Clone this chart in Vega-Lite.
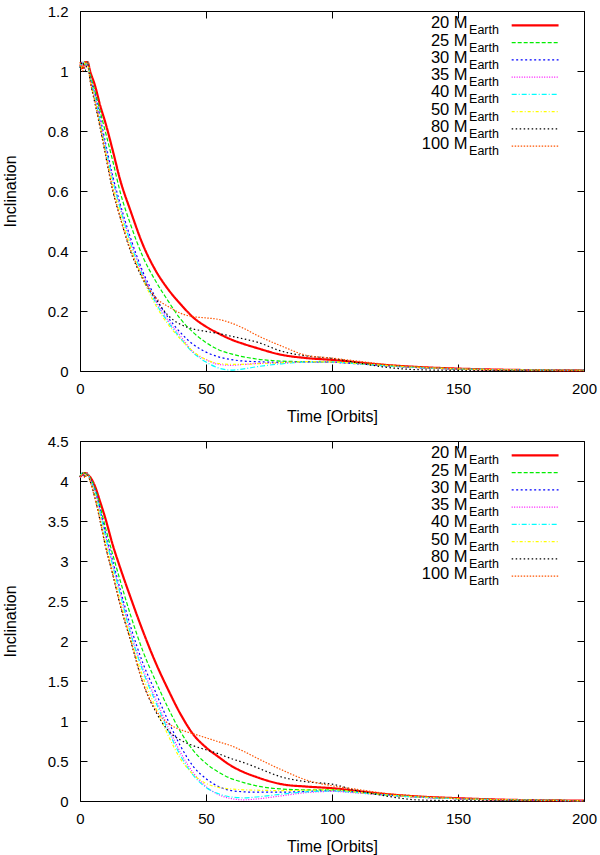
{
  "$schema": "https://vega.github.io/schema/vega-lite/v6.json",
  "description": "Inclination damping versus time for planets of 20 to 100 Earth masses, two initial inclinations.",
  "background": "white",
  "padding": {"left": 2, "top": 3, "right": 0, "bottom": 1},
  "spacing": 8,
  "config": {
    "font": "Liberation Sans",
    "view": {"stroke": "black", "strokeWidth": 1},
    "axis": {
      "grid": false,
      "domain": false,
      "tickColor": "black",
      "labelColor": "black",
      "titleColor": "black",
      "labelFontSize": 15,
      "titleFontSize": 16,
      "titleFontWeight": "normal",
      "tickSize": -7,
      "labelPadding": 19,
      "labelFlush": false
    }
  },
  "datasets": {
    "key": [
      {"m": "20", "lab": "20 M", "rank": 1},
      {"m": "25", "lab": "25 M", "rank": 2},
      {"m": "30", "lab": "30 M", "rank": 3},
      {"m": "35", "lab": "35 M", "rank": 4},
      {"m": "40", "lab": "40 M", "rank": 5},
      {"m": "50", "lab": "50 M", "rank": 6},
      {"m": "80", "lab": "80 M", "rank": 7},
      {"m": "100", "lab": "100 M", "rank": 8}
    ],
    "top": [
      {"m":"20","t":0,"i":1.02},{"m":"20","t":1,"i":1.01},{"m":"20","t":2,"i":1.03},{"m":"20","t":3,"i":1.03},{"m":"20","t":4,"i":1.0},{"m":"20","t":6,"i":0.95},{"m":"20","t":8,"i":0.885},{"m":"20","t":10,"i":0.83},{"m":"20","t":13,"i":0.735},{"m":"20","t":16,"i":0.635},{"m":"20","t":20,"i":0.535},{"m":"20","t":25,"i":0.42},{"m":"20","t":30,"i":0.335},{"m":"20","t":35,"i":0.272},{"m":"20","t":40,"i":0.222},{"m":"20","t":45,"i":0.178},{"m":"20","t":50,"i":0.148},{"m":"20","t":55,"i":0.125},{"m":"20","t":60,"i":0.105},{"m":"20","t":65,"i":0.09},{"m":"20","t":70,"i":0.077},{"m":"20","t":80,"i":0.054},{"m":"20","t":90,"i":0.043},{"m":"20","t":100,"i":0.037},{"m":"20","t":110,"i":0.029},{"m":"20","t":120,"i":0.021},{"m":"20","t":135,"i":0.013},{"m":"20","t":150,"i":0.008},{"m":"20","t":170,"i":0.004},{"m":"20","t":200,"i":0.002},
      {"m":"25","t":0,"i":1.02},{"m":"25","t":1,"i":1.03},{"m":"25","t":2,"i":1.02},{"m":"25","t":3,"i":1.03},{"m":"25","t":4,"i":0.99},{"m":"25","t":6,"i":0.93},{"m":"25","t":8,"i":0.865},{"m":"25","t":10,"i":0.8},{"m":"25","t":13,"i":0.7},{"m":"25","t":16,"i":0.595},{"m":"25","t":20,"i":0.49},{"m":"25","t":25,"i":0.38},{"m":"25","t":30,"i":0.3},{"m":"25","t":35,"i":0.233},{"m":"25","t":40,"i":0.172},{"m":"25","t":45,"i":0.128},{"m":"25","t":50,"i":0.095},{"m":"25","t":55,"i":0.071},{"m":"25","t":60,"i":0.057},{"m":"25","t":65,"i":0.047},{"m":"25","t":70,"i":0.04},{"m":"25","t":80,"i":0.033},{"m":"25","t":90,"i":0.031},{"m":"25","t":100,"i":0.03},{"m":"25","t":110,"i":0.025},{"m":"25","t":120,"i":0.019},{"m":"25","t":135,"i":0.012},{"m":"25","t":150,"i":0.007},{"m":"25","t":170,"i":0.004},{"m":"25","t":200,"i":0.002},
      {"m":"30","t":0,"i":1.02},{"m":"30","t":1,"i":1.02},{"m":"30","t":2,"i":1.03},{"m":"30","t":3,"i":1.02},{"m":"30","t":4,"i":0.98},{"m":"30","t":6,"i":0.92},{"m":"30","t":8,"i":0.845},{"m":"30","t":10,"i":0.765},{"m":"30","t":13,"i":0.65},{"m":"30","t":16,"i":0.555},{"m":"30","t":20,"i":0.445},{"m":"30","t":25,"i":0.33},{"m":"30","t":30,"i":0.245},{"m":"30","t":35,"i":0.178},{"m":"30","t":40,"i":0.127},{"m":"30","t":45,"i":0.088},{"m":"30","t":50,"i":0.063},{"m":"30","t":55,"i":0.047},{"m":"30","t":60,"i":0.038},{"m":"30","t":65,"i":0.033},{"m":"30","t":70,"i":0.031},{"m":"30","t":80,"i":0.029},{"m":"30","t":90,"i":0.03},{"m":"30","t":100,"i":0.029},{"m":"30","t":110,"i":0.024},{"m":"30","t":120,"i":0.018},{"m":"30","t":135,"i":0.011},{"m":"30","t":150,"i":0.007},{"m":"30","t":170,"i":0.004},{"m":"30","t":200,"i":0.002},
      {"m":"35","t":0,"i":1.02},{"m":"35","t":1,"i":1.03},{"m":"35","t":2,"i":1.01},{"m":"35","t":3,"i":1.03},{"m":"35","t":4,"i":0.98},{"m":"35","t":6,"i":0.915},{"m":"35","t":8,"i":0.835},{"m":"35","t":10,"i":0.755},{"m":"35","t":13,"i":0.64},{"m":"35","t":16,"i":0.545},{"m":"35","t":20,"i":0.435},{"m":"35","t":25,"i":0.322},{"m":"35","t":30,"i":0.235},{"m":"35","t":35,"i":0.168},{"m":"35","t":40,"i":0.115},{"m":"35","t":45,"i":0.062},{"m":"35","t":50,"i":0.038},{"m":"35","t":55,"i":0.022},{"m":"35","t":60,"i":0.019},{"m":"35","t":65,"i":0.022},{"m":"35","t":70,"i":0.025},{"m":"35","t":80,"i":0.027},{"m":"35","t":90,"i":0.03},{"m":"35","t":100,"i":0.029},{"m":"35","t":110,"i":0.024},{"m":"35","t":120,"i":0.018},{"m":"35","t":135,"i":0.011},{"m":"35","t":150,"i":0.007},{"m":"35","t":170,"i":0.004},{"m":"35","t":200,"i":0.002},
      {"m":"40","t":0,"i":1.01},{"m":"40","t":1,"i":1.03},{"m":"40","t":2,"i":1.02},{"m":"40","t":3,"i":1.03},{"m":"40","t":4,"i":0.98},{"m":"40","t":6,"i":0.91},{"m":"40","t":8,"i":0.83},{"m":"40","t":10,"i":0.75},{"m":"40","t":13,"i":0.635},{"m":"40","t":16,"i":0.54},{"m":"40","t":20,"i":0.428},{"m":"40","t":25,"i":0.316},{"m":"40","t":30,"i":0.228},{"m":"40","t":35,"i":0.162},{"m":"40","t":40,"i":0.108},{"m":"40","t":45,"i":0.06},{"m":"40","t":50,"i":0.03},{"m":"40","t":55,"i":0.01},{"m":"40","t":60,"i":0.003},{"m":"40","t":65,"i":0.007},{"m":"40","t":70,"i":0.014},{"m":"40","t":80,"i":0.024},{"m":"40","t":90,"i":0.03},{"m":"40","t":100,"i":0.03},{"m":"40","t":110,"i":0.024},{"m":"40","t":120,"i":0.018},{"m":"40","t":135,"i":0.011},{"m":"40","t":150,"i":0.007},{"m":"40","t":170,"i":0.004},{"m":"40","t":200,"i":0.002},
      {"m":"50","t":0,"i":1.02},{"m":"50","t":1,"i":1.01},{"m":"50","t":2,"i":1.03},{"m":"50","t":3,"i":1.02},{"m":"50","t":4,"i":0.97},{"m":"50","t":6,"i":0.9},{"m":"50","t":8,"i":0.82},{"m":"50","t":10,"i":0.735},{"m":"50","t":13,"i":0.62},{"m":"50","t":16,"i":0.525},{"m":"50","t":20,"i":0.415},{"m":"50","t":25,"i":0.305},{"m":"50","t":30,"i":0.22},{"m":"50","t":35,"i":0.155},{"m":"50","t":40,"i":0.105},{"m":"50","t":45,"i":0.065},{"m":"50","t":50,"i":0.038},{"m":"50","t":55,"i":0.025},{"m":"50","t":60,"i":0.022},{"m":"50","t":65,"i":0.022},{"m":"50","t":70,"i":0.024},{"m":"50","t":80,"i":0.028},{"m":"50","t":90,"i":0.031},{"m":"50","t":100,"i":0.03},{"m":"50","t":110,"i":0.025},{"m":"50","t":120,"i":0.019},{"m":"50","t":135,"i":0.012},{"m":"50","t":150,"i":0.007},{"m":"50","t":170,"i":0.004},{"m":"50","t":200,"i":0.002},
      {"m":"80","t":0,"i":1.01},{"m":"80","t":1,"i":1.03},{"m":"80","t":2,"i":1.0},{"m":"80","t":3,"i":1.03},{"m":"80","t":4,"i":0.97},{"m":"80","t":6,"i":0.89},{"m":"80","t":8,"i":0.81},{"m":"80","t":10,"i":0.725},{"m":"80","t":13,"i":0.6},{"m":"80","t":16,"i":0.51},{"m":"80","t":20,"i":0.4},{"m":"80","t":25,"i":0.305},{"m":"80","t":30,"i":0.24},{"m":"80","t":35,"i":0.185},{"m":"80","t":40,"i":0.155},{"m":"80","t":45,"i":0.14},{"m":"80","t":50,"i":0.132},{"m":"80","t":55,"i":0.125},{"m":"80","t":60,"i":0.116},{"m":"80","t":65,"i":0.107},{"m":"80","t":70,"i":0.097},{"m":"80","t":80,"i":0.066},{"m":"80","t":90,"i":0.05},{"m":"80","t":100,"i":0.042},{"m":"80","t":110,"i":0.028},{"m":"80","t":120,"i":0.014},{"m":"80","t":135,"i":0.004},{"m":"80","t":150,"i":0.002},{"m":"80","t":170,"i":0.001},{"m":"80","t":200,"i":0.0},
      {"m":"100","t":0,"i":1.03},{"m":"100","t":1,"i":1.0},{"m":"100","t":2,"i":1.02},{"m":"100","t":3,"i":1.03},{"m":"100","t":4,"i":0.97},{"m":"100","t":6,"i":0.895},{"m":"100","t":8,"i":0.815},{"m":"100","t":10,"i":0.73},{"m":"100","t":13,"i":0.605},{"m":"100","t":16,"i":0.51},{"m":"100","t":20,"i":0.405},{"m":"100","t":25,"i":0.31},{"m":"100","t":30,"i":0.245},{"m":"100","t":35,"i":0.215},{"m":"100","t":40,"i":0.192},{"m":"100","t":45,"i":0.181},{"m":"100","t":50,"i":0.177},{"m":"100","t":55,"i":0.172},{"m":"100","t":60,"i":0.16},{"m":"100","t":65,"i":0.142},{"m":"100","t":70,"i":0.12},{"m":"100","t":80,"i":0.083},{"m":"100","t":90,"i":0.052},{"m":"100","t":100,"i":0.043},{"m":"100","t":110,"i":0.033},{"m":"100","t":120,"i":0.023},{"m":"100","t":135,"i":0.013},{"m":"100","t":150,"i":0.008},{"m":"100","t":170,"i":0.004},{"m":"100","t":200,"i":0.002}
    ],
    "bottom": [
      {"m":"20","t":0,"i":4.05},{"m":"20","t":1,"i":4.08},{"m":"20","t":2,"i":4.1},{"m":"20","t":3,"i":4.08},{"m":"20","t":4,"i":4.05},{"m":"20","t":6,"i":3.93},{"m":"20","t":8,"i":3.74},{"m":"20","t":10,"i":3.54},{"m":"20","t":13,"i":3.2},{"m":"20","t":16,"i":2.91},{"m":"20","t":20,"i":2.55},{"m":"20","t":25,"i":2.12},{"m":"20","t":30,"i":1.73},{"m":"20","t":35,"i":1.39},{"m":"20","t":40,"i":1.08},{"m":"20","t":45,"i":0.83},{"m":"20","t":50,"i":0.67},{"m":"20","t":55,"i":0.55},{"m":"20","t":60,"i":0.44},{"m":"20","t":65,"i":0.36},{"m":"20","t":70,"i":0.3},{"m":"20","t":80,"i":0.21},{"m":"20","t":90,"i":0.18},{"m":"20","t":100,"i":0.16},{"m":"20","t":110,"i":0.125},{"m":"20","t":120,"i":0.09},{"m":"20","t":135,"i":0.055},{"m":"20","t":150,"i":0.035},{"m":"20","t":170,"i":0.015},{"m":"20","t":200,"i":0.005},
      {"m":"25","t":0,"i":4.05},{"m":"25","t":1,"i":4.1},{"m":"25","t":2,"i":4.1},{"m":"25","t":3,"i":4.07},{"m":"25","t":4,"i":4.04},{"m":"25","t":6,"i":3.9},{"m":"25","t":8,"i":3.68},{"m":"25","t":10,"i":3.43},{"m":"25","t":13,"i":3.08},{"m":"25","t":16,"i":2.75},{"m":"25","t":20,"i":2.33},{"m":"25","t":25,"i":1.87},{"m":"25","t":30,"i":1.5},{"m":"25","t":35,"i":1.16},{"m":"25","t":40,"i":0.86},{"m":"25","t":45,"i":0.63},{"m":"25","t":50,"i":0.47},{"m":"25","t":55,"i":0.36},{"m":"25","t":60,"i":0.28},{"m":"25","t":65,"i":0.23},{"m":"25","t":70,"i":0.19},{"m":"25","t":80,"i":0.15},{"m":"25","t":90,"i":0.14},{"m":"25","t":100,"i":0.14},{"m":"25","t":110,"i":0.11},{"m":"25","t":120,"i":0.08},{"m":"25","t":135,"i":0.05},{"m":"25","t":150,"i":0.03},{"m":"25","t":170,"i":0.015},{"m":"25","t":200,"i":0.005},
      {"m":"30","t":0,"i":4.05},{"m":"30","t":1,"i":4.08},{"m":"30","t":2,"i":4.06},{"m":"30","t":3,"i":4.1},{"m":"30","t":4,"i":4.03},{"m":"30","t":6,"i":3.88},{"m":"30","t":8,"i":3.64},{"m":"30","t":10,"i":3.37},{"m":"30","t":13,"i":3.0},{"m":"30","t":16,"i":2.64},{"m":"30","t":20,"i":2.19},{"m":"30","t":25,"i":1.72},{"m":"30","t":30,"i":1.36},{"m":"30","t":35,"i":1.0},{"m":"30","t":40,"i":0.68},{"m":"30","t":45,"i":0.43},{"m":"30","t":50,"i":0.28},{"m":"30","t":55,"i":0.18},{"m":"30","t":60,"i":0.13},{"m":"30","t":65,"i":0.115},{"m":"30","t":70,"i":0.11},{"m":"30","t":80,"i":0.11},{"m":"30","t":90,"i":0.12},{"m":"30","t":100,"i":0.13},{"m":"30","t":110,"i":0.11},{"m":"30","t":120,"i":0.08},{"m":"30","t":135,"i":0.05},{"m":"30","t":150,"i":0.03},{"m":"30","t":170,"i":0.015},{"m":"30","t":200,"i":0.005},
      {"m":"35","t":0,"i":4.04},{"m":"35","t":1,"i":4.09},{"m":"35","t":2,"i":4.05},{"m":"35","t":3,"i":4.1},{"m":"35","t":4,"i":4.03},{"m":"35","t":6,"i":3.87},{"m":"35","t":8,"i":3.62},{"m":"35","t":10,"i":3.34},{"m":"35","t":13,"i":2.96},{"m":"35","t":16,"i":2.6},{"m":"35","t":20,"i":2.12},{"m":"35","t":25,"i":1.65},{"m":"35","t":30,"i":1.28},{"m":"35","t":35,"i":0.92},{"m":"35","t":40,"i":0.6},{"m":"35","t":45,"i":0.35},{"m":"35","t":50,"i":0.18},{"m":"35","t":55,"i":0.08},{"m":"35","t":60,"i":0.03},{"m":"35","t":65,"i":0.015},{"m":"35","t":70,"i":0.025},{"m":"35","t":80,"i":0.065},{"m":"35","t":90,"i":0.105},{"m":"35","t":100,"i":0.12},{"m":"35","t":110,"i":0.1},{"m":"35","t":120,"i":0.075},{"m":"35","t":135,"i":0.045},{"m":"35","t":150,"i":0.028},{"m":"35","t":170,"i":0.013},{"m":"35","t":200,"i":0.004},
      {"m":"40","t":0,"i":4.06},{"m":"40","t":1,"i":4.1},{"m":"40","t":2,"i":4.07},{"m":"40","t":3,"i":4.09},{"m":"40","t":4,"i":4.02},{"m":"40","t":6,"i":3.86},{"m":"40","t":8,"i":3.6},{"m":"40","t":10,"i":3.32},{"m":"40","t":13,"i":2.94},{"m":"40","t":16,"i":2.58},{"m":"40","t":20,"i":2.1},{"m":"40","t":25,"i":1.62},{"m":"40","t":30,"i":1.24},{"m":"40","t":35,"i":0.88},{"m":"40","t":40,"i":0.56},{"m":"40","t":45,"i":0.32},{"m":"40","t":50,"i":0.17},{"m":"40","t":55,"i":0.09},{"m":"40","t":60,"i":0.05},{"m":"40","t":65,"i":0.04},{"m":"40","t":70,"i":0.05},{"m":"40","t":80,"i":0.085},{"m":"40","t":90,"i":0.115},{"m":"40","t":100,"i":0.125},{"m":"40","t":110,"i":0.105},{"m":"40","t":120,"i":0.078},{"m":"40","t":135,"i":0.047},{"m":"40","t":150,"i":0.029},{"m":"40","t":170,"i":0.014},{"m":"40","t":200,"i":0.004},
      {"m":"50","t":0,"i":4.05},{"m":"50","t":1,"i":4.1},{"m":"50","t":2,"i":4.06},{"m":"50","t":3,"i":4.08},{"m":"50","t":4,"i":4.01},{"m":"50","t":6,"i":3.82},{"m":"50","t":8,"i":3.54},{"m":"50","t":10,"i":3.25},{"m":"50","t":13,"i":2.87},{"m":"50","t":16,"i":2.5},{"m":"50","t":20,"i":2.04},{"m":"50","t":25,"i":1.55},{"m":"50","t":30,"i":1.17},{"m":"50","t":35,"i":0.82},{"m":"50","t":40,"i":0.52},{"m":"50","t":45,"i":0.33},{"m":"50","t":50,"i":0.22},{"m":"50","t":55,"i":0.17},{"m":"50","t":60,"i":0.15},{"m":"50","t":65,"i":0.14},{"m":"50","t":70,"i":0.135},{"m":"50","t":80,"i":0.13},{"m":"50","t":90,"i":0.135},{"m":"50","t":100,"i":0.14},{"m":"50","t":110,"i":0.11},{"m":"50","t":120,"i":0.08},{"m":"50","t":135,"i":0.05},{"m":"50","t":150,"i":0.03},{"m":"50","t":170,"i":0.015},{"m":"50","t":200,"i":0.005},
      {"m":"80","t":0,"i":4.05},{"m":"80","t":1,"i":4.1},{"m":"80","t":2,"i":4.06},{"m":"80","t":3,"i":4.08},{"m":"80","t":4,"i":4.0},{"m":"80","t":6,"i":3.78},{"m":"80","t":8,"i":3.5},{"m":"80","t":10,"i":3.2},{"m":"80","t":13,"i":2.83},{"m":"80","t":16,"i":2.44},{"m":"80","t":20,"i":2.01},{"m":"80","t":25,"i":1.47},{"m":"80","t":30,"i":1.12},{"m":"80","t":35,"i":0.88},{"m":"80","t":40,"i":0.76},{"m":"80","t":45,"i":0.69},{"m":"80","t":50,"i":0.64},{"m":"80","t":55,"i":0.59},{"m":"80","t":60,"i":0.53},{"m":"80","t":65,"i":0.48},{"m":"80","t":70,"i":0.42},{"m":"80","t":80,"i":0.3},{"m":"80","t":90,"i":0.24},{"m":"80","t":100,"i":0.21},{"m":"80","t":110,"i":0.13},{"m":"80","t":120,"i":0.07},{"m":"80","t":135,"i":0.012},{"m":"80","t":150,"i":0.005},{"m":"80","t":170,"i":0.003},{"m":"80","t":200,"i":0.001},
      {"m":"100","t":0,"i":4.05},{"m":"100","t":1,"i":4.08},{"m":"100","t":2,"i":4.04},{"m":"100","t":3,"i":4.1},{"m":"100","t":4,"i":4.0},{"m":"100","t":6,"i":3.77},{"m":"100","t":8,"i":3.5},{"m":"100","t":10,"i":3.2},{"m":"100","t":13,"i":2.83},{"m":"100","t":16,"i":2.45},{"m":"100","t":20,"i":2.02},{"m":"100","t":25,"i":1.48},{"m":"100","t":30,"i":1.14},{"m":"100","t":35,"i":0.97},{"m":"100","t":40,"i":0.89},{"m":"100","t":45,"i":0.84},{"m":"100","t":50,"i":0.79},{"m":"100","t":55,"i":0.74},{"m":"100","t":60,"i":0.69},{"m":"100","t":65,"i":0.62},{"m":"100","t":70,"i":0.54},{"m":"100","t":80,"i":0.39},{"m":"100","t":90,"i":0.26},{"m":"100","t":100,"i":0.19},{"m":"100","t":110,"i":0.145},{"m":"100","t":120,"i":0.1},{"m":"100","t":135,"i":0.06},{"m":"100","t":150,"i":0.035},{"m":"100","t":170,"i":0.015},{"m":"100","t":200,"i":0.005}
    ]
  },
  "vconcat": [
    {
      "width": 504,
      "height": 360,
      "layer": [
        {
          "data": {"name": "top"},
          "mark": {"type": "line", "interpolate": "monotone"},
          "encoding": {
            "x": {"field": "t", "type": "quantitative", "scale": {"domain": [0, 200]},
                  "axis": {"title": "Time [Orbits]", "values": [0, 50, 100, 150, 200], "labelPadding": 17, "titlePadding": 12}},
            "y": {"field": "i", "type": "quantitative", "scale": {"domain": [0, 1.2]},
                  "axis": {"title": "Inclination", "values": [0, 0.2, 0.4, 0.6, 0.8, 1, 1.2], "format": "~g", "titlePadding": 28.5}},
            "color": {"field": "m", "type": "nominal", "legend": null,
                      "scale": {"domain": ["20", "25", "30", "35", "40", "50", "80", "100"],
                                "range": ["#ff0000", "#00ee00", "#0000ff", "#ff00ff", "#00ffff", "#ffff00", "#000000", "#ff5500"]}},
            "strokeDash": {"field": "m", "type": "nominal", "legend": null,
                           "scale": {"domain": ["20", "25", "30", "35", "40", "50", "80", "100"],
                                     "range": [[1, 0], [4, 2], [2, 2.5], [1, 1.5], [5, 2, 1, 2], [3, 2, 1, 2], [1.5, 2.5], [1.5, 1.5]]}},
            "strokeWidth": {"condition": {"test": "datum.m === '20'", "value": 2.2}, "value": 1.2}
          }
        },
        {
          "data": {"name": "top"},
          "mark": {"type": "point", "opacity": 0},
          "encoding": {
            "x": {"field": "t", "type": "quantitative", "axis": {"orient": "top", "labels": false, "title": null, "values": [0, 50, 100, 150, 200]}},
            "y": {"field": "i", "type": "quantitative", "scale": {"domain": [0, 1.2]},
                  "axis": {"orient": "right", "labels": false, "title": null, "values": [0, 0.2, 0.4, 0.6, 0.8, 1, 1.2]}}
          }
        },
        {
          "data": {"name": "key"},
          "mark": {"type": "rule"},
          "encoding": {
            "x": {"datum": 171.3, "type": "quantitative", "axis": null},
            "x2": {"datum": 189.9},
            "y": {"field": "rank", "type": "quantitative", "scale": {"domain": [0.17, 21.04], "reverse": true}, "axis": null},
            "color": {"field": "m", "type": "nominal", "legend": null},
            "strokeDash": {"field": "m", "type": "nominal", "legend": null},
            "strokeWidth": {"condition": {"test": "datum.m === '20'", "value": 2.2}, "value": 1.2}
          }
        },
        {
          "data": {"name": "key"},
          "mark": {"type": "text", "align": "right", "baseline": "alphabetic", "fontSize": 16.5, "dy": 3, "color": "black"},
          "encoding": {
            "x": {"datum": 153.8, "type": "quantitative", "axis": null},
            "y": {"field": "rank", "type": "quantitative", "scale": {"domain": [0.17, 21.04], "reverse": true}, "axis": null},
            "text": {"field": "lab"}
          }
        },
        {
          "data": {"name": "key"},
          "mark": {"type": "text", "align": "left", "baseline": "alphabetic", "fontSize": 12.5, "dx": 1.5, "dy": 9, "color": "black"},
          "encoding": {
            "x": {"datum": 153.8, "type": "quantitative", "axis": null},
            "y": {"field": "rank", "type": "quantitative", "scale": {"domain": [0.17, 21.04], "reverse": true}, "axis": null},
            "text": {"value": "Earth"}
          }
        }
      ],
      "resolve": {"scale": {"y": "independent"}, "axis": {"x": "independent", "y": "independent"}}
    },
    {
      "width": 504,
      "height": 360,
      "layer": [
        {
          "data": {"name": "bottom"},
          "mark": {"type": "line", "interpolate": "monotone"},
          "encoding": {
            "x": {"field": "t", "type": "quantitative", "scale": {"domain": [0, 200]},
                  "axis": {"title": "Time [Orbits]", "values": [0, 50, 100, 150, 200], "labelPadding": 17, "titlePadding": 12}},
            "y": {"field": "i", "type": "quantitative", "scale": {"domain": [0, 4.5]},
                  "axis": {"title": "Inclination", "values": [0, 0.5, 1, 1.5, 2, 2.5, 3, 3.5, 4, 4.5], "format": "~g", "titlePadding": 28.5}},
            "color": {"field": "m", "type": "nominal", "legend": null,
                      "scale": {"domain": ["20", "25", "30", "35", "40", "50", "80", "100"],
                                "range": ["#ff0000", "#00ee00", "#0000ff", "#ff00ff", "#00ffff", "#ffff00", "#000000", "#ff5500"]}},
            "strokeDash": {"field": "m", "type": "nominal", "legend": null,
                           "scale": {"domain": ["20", "25", "30", "35", "40", "50", "80", "100"],
                                     "range": [[1, 0], [4, 2], [2, 2.5], [1, 1.5], [5, 2, 1, 2], [3, 2, 1, 2], [1.5, 2.5], [1.5, 1.5]]}},
            "strokeWidth": {"condition": {"test": "datum.m === '20'", "value": 2.2}, "value": 1.2}
          }
        },
        {
          "data": {"name": "bottom"},
          "mark": {"type": "point", "opacity": 0},
          "encoding": {
            "x": {"field": "t", "type": "quantitative", "axis": {"orient": "top", "labels": false, "title": null, "values": [0, 50, 100, 150, 200]}},
            "y": {"field": "i", "type": "quantitative", "scale": {"domain": [0, 4.5]},
                  "axis": {"orient": "right", "labels": false, "title": null, "values": [0, 0.5, 1, 1.5, 2, 2.5, 3, 3.5, 4, 4.5]}}
          }
        },
        {
          "data": {"name": "key"},
          "mark": {"type": "rule"},
          "encoding": {
            "x": {"datum": 171.3, "type": "quantitative", "axis": null},
            "x2": {"datum": 189.9},
            "y": {"field": "rank", "type": "quantitative", "scale": {"domain": [0.17, 21.04], "reverse": true}, "axis": null},
            "color": {"field": "m", "type": "nominal", "legend": null},
            "strokeDash": {"field": "m", "type": "nominal", "legend": null},
            "strokeWidth": {"condition": {"test": "datum.m === '20'", "value": 2.2}, "value": 1.2}
          }
        },
        {
          "data": {"name": "key"},
          "mark": {"type": "text", "align": "right", "baseline": "alphabetic", "fontSize": 16.5, "dy": 3, "color": "black"},
          "encoding": {
            "x": {"datum": 153.8, "type": "quantitative", "axis": null},
            "y": {"field": "rank", "type": "quantitative", "scale": {"domain": [0.17, 21.04], "reverse": true}, "axis": null},
            "text": {"field": "lab"}
          }
        },
        {
          "data": {"name": "key"},
          "mark": {"type": "text", "align": "left", "baseline": "alphabetic", "fontSize": 12.5, "dx": 1.5, "dy": 9, "color": "black"},
          "encoding": {
            "x": {"datum": 153.8, "type": "quantitative", "axis": null},
            "y": {"field": "rank", "type": "quantitative", "scale": {"domain": [0.17, 21.04], "reverse": true}, "axis": null},
            "text": {"value": "Earth"}
          }
        }
      ],
      "resolve": {"scale": {"y": "independent"}, "axis": {"x": "independent", "y": "independent"}}
    }
  ]
}
